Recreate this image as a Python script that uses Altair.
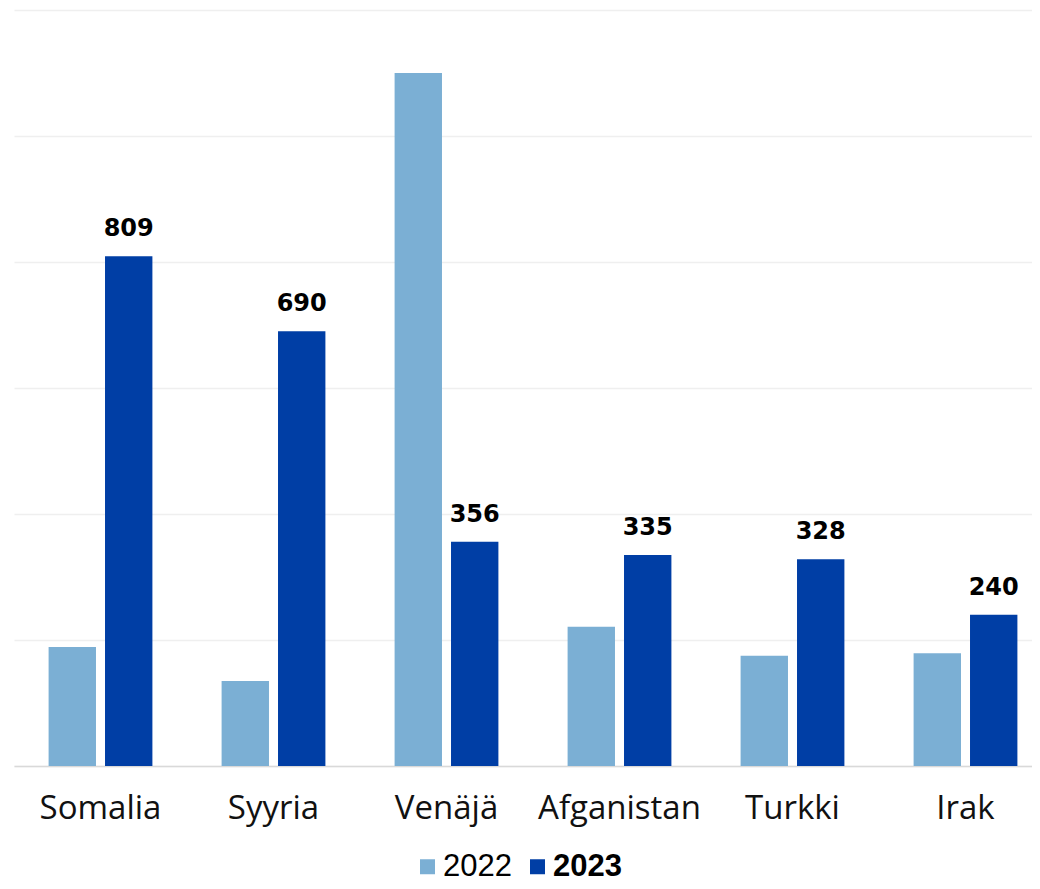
import altair as alt
import pandas as pd

countries = ["Somalia", "Syyria", "Venäjä", "Afganistan", "Turkki", "Irak"]
values_2022 = [189, 135, 1100, 221, 175, 179]
values_2023 = [809, 690, 356, 335, 328, 240]
years = ["2022", "2023"]
colors = ["#7BAFD4", "#003EA5"]

rows = []
for c, a, b in zip(countries, values_2022, values_2023):
    rows.append({"maa": c, "vuosi": "2022", "arvo": a})
    rows.append({"maa": c, "vuosi": "2023", "arvo": b})
df = pd.DataFrame(rows)

x_scale = alt.Scale(paddingInner=0.4, paddingOuter=0.2)
x_enc = alt.X("maa:N", sort=countries, title=None, scale=x_scale,
              axis=alt.Axis(labelAngle=0, labelFontSize=33, labelFont="Open Sans",
                            labelColor="#111111", labelPadding=26, ticks=False,
                            domainColor="#d9d9d9", domainWidth=1.5))
xoff = alt.XOffset("vuosi:N", sort=years, scale=alt.Scale(paddingInner=0.16))
y_enc = alt.Y("arvo:Q", title=None,
              scale=alt.Scale(domain=[0, 1200], nice=False),
              axis=alt.Axis(values=[0, 200, 400, 600, 800, 1000, 1200], labels=False,
                            ticks=False, domain=False, gridColor="#efefef", gridWidth=1.5))

bars = alt.Chart(df).mark_bar().encode(
    x=x_enc,
    xOffset=xoff,
    y=y_enc,
    color=alt.Color("vuosi:N", sort=years, title=None,
                    scale=alt.Scale(domain=years, range=colors),
                    legend=alt.Legend(orient="none", legendX=398, legendY=841,
                                      direction="horizontal",
                                      symbolType="square", symbolSize=225,
                                      symbolStrokeWidth=0,
                                      labelFontSize=31, labelFont="Liberation Sans",
                                      labelColor="#000000",
                                      labelFontWeight={"expr": "datum.label == '2023' ? 'bold' : 'normal'"},
                                      columnPadding=10, labelOffset=0)),
)

labels = alt.Chart(df).transform_filter(alt.datum.vuosi == "2023").mark_text(
    fontSize=24, fontWeight="bold", font="DejaVu Sans", color="#000000",
    baseline="alphabetic", dy=-20
).encode(
    x=alt.X("maa:N", sort=countries, scale=x_scale),
    xOffset=alt.XOffset("vuosi:N", sort=years),
    y=alt.Y("arvo:Q"),
    text=alt.Text("arvo:Q"),
)

chart = alt.layer(bars, labels).properties(
    width=1038, height=756,
    autosize=alt.AutoSizeParams(type="none"),
    padding={"left": 6, "top": 2, "right": -20, "bottom": 119},
).configure_view(stroke=None)

chart.save("out.html", embed_options={"renderer": "svg", "actions": False})
